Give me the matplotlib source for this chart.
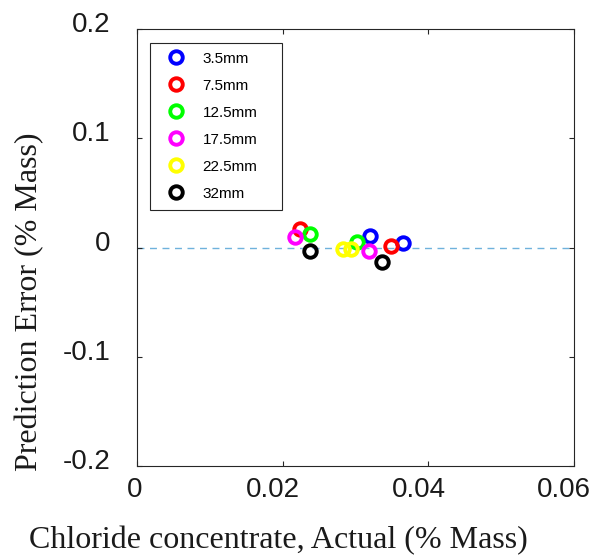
import matplotlib.pyplot as plt
from matplotlib.patches import Rectangle
from matplotlib.transforms import ScaledTranslation

# prediction error vs actual chloride content, one series per depth
labels = ['3.5mm', '7.5mm', '12.5mm', '17.5mm', '22.5mm', '32mm']
colors = ['#0000ff', '#ff0000', '#00ff00', '#ff00ff', '#ffff00', '#000000']
actual = [
    [0.0320, 0.0365],
    [0.0224, 0.0349],
    [0.0238, 0.0302],
    [0.0217, 0.0319],
    [0.0283, 0.0294],
    [0.0238, 0.0336],
]
error = [
    [0.0101, 0.0037],
    [0.0166, 0.0018],
    [0.0120, 0.0046],
    [0.0092, -0.0028],
    [-0.0010, -0.0018],
    [-0.0028, -0.0129],
]
xticks = [0, 0.02, 0.04, 0.06]
xticklabels = ['0', '0.02', '0.04', '0.06']
yticks = [-0.2, -0.1, 0, 0.1, 0.2]
yticklabels = ['-0.2', '-0.1', '0', '0.1', '0.2']

fig = plt.figure(figsize=(5.91, 5.56), dpi=100)
ax = fig.add_axes([0.2318, 0.1619, 0.7394, 0.7859])

ax.axhline(0, color='#6fb2dc', linestyle=(0, (5, 4)), linewidth=1.0, zorder=1)

for lab, c, xs, ys in zip(labels, colors, actual, error):
    ax.plot(xs, ys, linestyle='none', marker='o', markersize=9,
            markerfacecolor='none', markeredgecolor=c, markeredgewidth=2.8,
            label=lab, zorder=3)

ax.set_xlim(0, 0.06)
ax.set_ylim(-0.2, 0.2)
ax.set_xticks(xticks)
ax.set_xticklabels(xticklabels)
ax.set_yticks(yticks)
ax.set_yticklabels(yticklabels)

for s in ax.spines.values():
    s.set_color('#262626')
    s.set_linewidth(0.8)
ax.tick_params(direction='in', length=3.5, width=0.8, color='#262626',
               top=True, right=True, labelsize=20, labelcolor='#1a1a1a')
ax.tick_params(axis='x', pad=8)
ax.tick_params(axis='y', pad=19)
for t in ax.get_xticklabels() + ax.get_yticklabels():
    t.set_fontfamily('Liberation Sans')

# nudge tick labels: y labels up a bit, wider x labels slightly left
up = ScaledTranslation(0, 5 / 72, fig.dpi_scale_trans)
for t in ax.get_yticklabels():
    t.set_transform(t.get_transform() + up)
for t, txt in zip(ax.get_xticklabels(), xticklabels):
    dx = -2 / 72 if len(txt) == 1 else -7 / 72
    t.set_transform(t.get_transform() +
                    ScaledTranslation(dx, 0, fig.dpi_scale_trans))

ax.set_xlabel('Chloride concentrate, Actual (% Mass)',
              fontfamily='Liberation Serif', fontsize=23, color='#1a1a1a')
ax.set_ylabel('Prediction Error (% Mass)',
              fontfamily='Liberation Serif', fontsize=23, color='#1a1a1a')
ax.xaxis.set_label_coords(0.3227, -0.138)
ax.yaxis.set_label_coords(-0.213, 0.376)

# legend entries, with a separate box around them
ax.legend(loc='upper left', bbox_to_anchor=(0.0297, 0.9726),
          borderaxespad=0, frameon=False,
          prop={'family': 'Liberation Sans', 'size': 11},
          labelspacing=0.85, handlelength=2.0, handletextpad=0.73,
          borderpad=0.7)
ax.add_patch(Rectangle((0.0297, 0.5858), 0.3021, 0.3822,
                       transform=ax.transAxes, facecolor='none',
                       edgecolor='#262626', linewidth=0.8, zorder=4))

fig.savefig('out.png', dpi=100)
